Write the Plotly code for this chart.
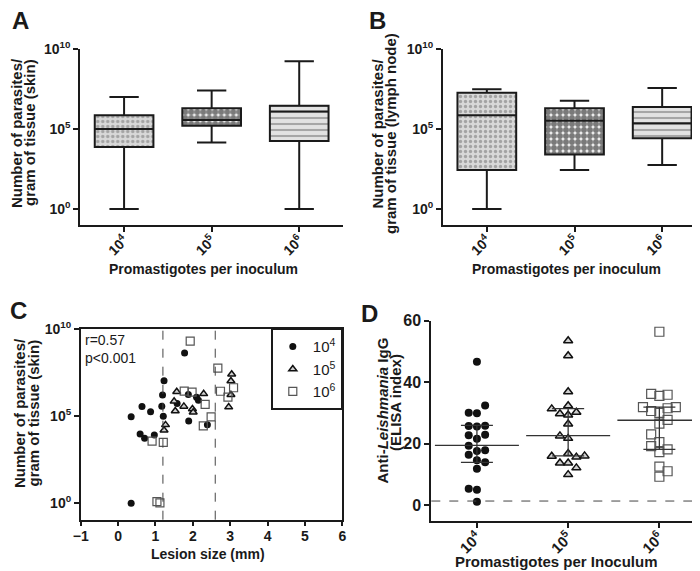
import plotly.graph_objects as go

W, H = 700, 571
FONT = "Liberation Sans, Arial, sans-serif"
INK = "#1a1a1a"

# ---------------- data ----------------
categories = ["10<sup>4</sup>", "10<sup>5</sup>", "10<sup>6</sup>"]
log_tick_vals = [1, 1e5, 1e10]
log_tick_text = ["10<sup>0</sup>", "10<sup>5</sup>", "10<sup>10</sup>"]

# Panel A: parasites / g skin (log10 of box statistics)
skin_min = [0.0, 4.15, 0.0]
skin_q1 = [3.88, 5.21, 4.25]
skin_med = [5.0, 5.56, 6.1]
skin_q3 = [5.86, 6.29, 6.46]
skin_max = [7.0, 7.4, 9.23]

# Panel B: parasites / g lymph node (log10)
ln_min = [0.0, 2.44, 2.75]
ln_q1 = [2.44, 3.4, 4.42]
ln_med = [5.86, 5.52, 5.36]
ln_q3 = [7.27, 6.29, 6.38]
ln_max = [7.48, 6.77, 7.56]

# Panel C: lesion size (mm) vs log10 parasites / g skin
c4_size = [0.35, 0.59, 0.64, 0.71, 0.87, 0.97, 1.17, 1.19, 1.23, 1.21, 1.78, 1.58,
           1.88, 1.89, 2.10, 2.15, 2.39, 0.35]
c4_log = [4.97, 3.98, 5.55, 3.73, 5.25, 3.92, 5.57, 6.21, 7.03, 5.0, 8.63, 5.72,
          6.24, 4.72, 6.09, 5.91, 4.5, 0.0]
c5_size = [1.23, 1.27, 1.50, 1.53, 1.57, 1.76, 1.99, 2.01, 2.29, 2.96, 3.02, 3.02, 3.04, 4.58]
c5_log = [4.19, 4.5, 5.85, 5.3, 6.4, 5.56, 5.41, 5.22, 6.28, 5.52, 6.23, 7.02, 7.4, 5.54]
c6_size = [0.91, 1.04, 1.12, 1.21, 1.77, 1.93, 1.98, 2.28, 2.33, 2.49, 2.67, 2.74, 2.94, 3.09]
c6_log = [3.57, 0.1, 0.03, 3.5, 6.44, 9.3, 6.38, 4.44, 5.68, 4.96, 7.75, 6.43, 6.09, 6.63]
c_cutoffs = [1.2, 2.6]

# Panel D: anti-Leishmania IgG (ELISA index); column = swarm column of each point
d4_vals = [46.6, 32.4, 30.0, 29.9, 25.7, 25.6, 25.8, 22.7, 22.9, 21.6, 19.3, 17.6, 17.8,
           16.4, 14.6, 13.9, 11.8, 5.3, 5.0, 1.1]
d4_cols = [0, 1, -1, 0, -1, 0, 1, -1, 1, 0, -1, 0, 1, -1, 0, 1, 0, -1, 0, 0]
d5_vals = [53.5, 48.6, 36.9, 32.3, 31.3, 29.7, 29.3, 30.2, 26.4, 22.5, 21.7, 16.8, 15.9,
           15.6, 16.0, 13.7, 13.7, 12.1, 9.9]
d5_cols = [0, 0, 0, 0, -2, -1, 0, 1, 0, -1, 0, 0, -2, 1, 2, -1, 0, 1, 0]
d6_vals = [56.4, 36.2, 35.5, 35.9, 31.9, 30.6, 30.0, 31.5, 31.9, 26.5, 27.7, 23.0, 20.5,
           19.2, 18.1, 17.2, 12.5, 11.0, 9.2]
d6_cols = [0, -1, 0, 1, -2, -1, 0, 1, 2, 0, 1, -1, 0, -1, 1, 0, 0, 1, 0]
d_median = [19.4, 22.6, 27.6]
d_q1 = [13.9, 16.0, 18.1]
d_q3 = [25.9, 31.4, 31.9]
d_cutoff = 1.3

# ---------------- helpers ----------------
def px(x):
    return x / W

def py(y):
    return 1 - y / H

patterns = [
    dict(shape=".", fgcolor="#6e6e6e", bgcolor="#d8d8d8", size=5, solidity=0.35),
    dict(shape=".", fgcolor="#000000", bgcolor="#f4f4f4", size=6, solidity=0.75),
    dict(shape="-", fgcolor="#6a6a6a", bgcolor="#e2e2e2", size=6, solidity=0.35),
]

fig = go.Figure()

def add_boxes(xa, ya, lo, q1, med, q3, hi):
    for i in range(3):
        fig.add_trace(go.Bar(
            x=[i], y=[10 ** q3[i] - 10 ** q1[i]], base=[10 ** q1[i]], width=0.67,
            marker=dict(color=patterns[i]["bgcolor"], pattern=patterns[i], line=dict(width=0)),
            xaxis=xa, yaxis=ya, showlegend=False, hoverinfo="skip"))
    fig.add_trace(go.Box(
        x=[0, 1, 2],
        q1=[10 ** v for v in q1], median=[10 ** v for v in med], q3=[10 ** v for v in q3],
        lowerfence=[10 ** v for v in lo], upperfence=[10 ** v for v in hi],
        width=0.67, whiskerwidth=0.5, fillcolor="rgba(0,0,0,0)",
        line=dict(color=INK, width=2), boxpoints=False,
        xaxis=xa, yaxis=ya, showlegend=False, hoverinfo="skip"))

add_boxes("x", "y", skin_min, skin_q1, skin_med, skin_q3, skin_max)
add_boxes("x2", "y2", ln_min, ln_q1, ln_med, ln_q3, ln_max)

# Panel C scatter
fig.add_trace(go.Scatter(
    x=c4_size, y=[10 ** v for v in c4_log], mode="markers", name="10<sup>4</sup>",
    marker=dict(symbol="circle", size=7, color="#111"), xaxis="x3", yaxis="y3"))
fig.add_trace(go.Scatter(
    x=c5_size, y=[10 ** v for v in c5_log], mode="markers", name="10<sup>5</sup>",
    marker=dict(symbol="triangle-up", size=7, color="#cfcfcf", line=dict(color="#111", width=1.5)),
    xaxis="x3", yaxis="y3"))
fig.add_trace(go.Scatter(
    x=c6_size, y=[10 ** v for v in c6_log], mode="markers", name="10<sup>6</sup>",
    marker=dict(symbol="square-open", size=8, color="#555", line=dict(width=1.2)),
    xaxis="x3", yaxis="y3"))

# Panel D scatter
SW = 0.09
d_sets = [
    (d4_vals, d4_cols, dict(symbol="circle", size=8, color="#111")),
    (d5_vals, d5_cols, dict(symbol="triangle-up", size=8, color="#cfcfcf",
                            line=dict(color="#111", width=1.5))),
    (d6_vals, d6_cols, dict(symbol="square-open", size=9, color="#555", line=dict(width=1.2))),
]
for i, (vals, cols, mk) in enumerate(d_sets):
    fig.add_trace(go.Scatter(
        x=[i + c * SW for c in cols], y=vals, mode="markers", marker=mk,
        xaxis="x4", yaxis="y4", showlegend=False, hoverinfo="skip"))
for i in range(3):
    fig.add_trace(go.Scatter(
        x=[i], y=[d_median[i]], mode="markers",
        marker=dict(symbol="line-ew", size=60, color="#333", line=dict(color="#333", width=1.3)),
        error_y=dict(type="data", symmetric=False, array=[d_q3[i] - d_median[i]],
                     arrayminus=[d_median[i] - d_q1[i]], width=16, thickness=1.3, color="#333"),
        xaxis="x4", yaxis="y4", showlegend=False, hoverinfo="skip"))

# ---------------- axes ----------------
def cat_xaxis(domain, anchor, size):
    return dict(domain=domain, anchor=anchor, range=[-0.5, 2.5], tickvals=[0, 1, 2],
                ticktext=categories, tickangle=-45, showline=True, linecolor=INK, linewidth=2,
                ticks="outside", ticklen=5, tickwidth=1.5, tickcolor=INK, showgrid=False,
                zeroline=False, automargin=False, ticklabelstandoff=-5,
                tickfont=dict(family=FONT, size=size, color=INK, weight="bold"))

def log_yaxis(domain, anchor, rng, mirror=False, lw=2):
    return dict(domain=domain, anchor=anchor, type="log", range=rng, tickvals=log_tick_vals,
                ticktext=log_tick_text, showline=True, linecolor=INK, linewidth=lw,
                mirror=mirror, ticks="outside", ticklen=5, tickwidth=1.5, tickcolor=INK,
                showgrid=False, zeroline=False, automargin=False,
                tickfont=dict(family=FONT, size=14, color=INK, weight="bold"))

layout = dict(
    width=W, height=H, autosize=False,
    margin=dict(l=0, r=0, t=0, b=0, pad=0, autoexpand=False),
    paper_bgcolor="white", plot_bgcolor="white",
    barmode="overlay", boxmode="overlay",
    font=dict(family=FONT, color=INK),
    xaxis=cat_xaxis([px(72.3), px(335)], "y", 14),
    yaxis=log_yaxis([py(216.7), py(41)], "x", [-0.98, 10]),
    xaxis2=cat_xaxis([px(435), px(698)], "y2", 14),
    yaxis2=log_yaxis([py(216.7), py(41)], "x2", [-0.98, 10]),
    xaxis3=dict(domain=[px(72.7), px(334.3)], anchor="y3", range=[-1, 6], dtick=1,
                showline=True, mirror=True, linecolor=INK, linewidth=1.5, ticks="outside",
                ticklen=5, tickwidth=1.5, tickcolor=INK, showgrid=False, zeroline=False,
                automargin=False, ticklabelstandoff=-2,
                tickfont=dict(family=FONT, size=14, color=INK, weight="bold")),
    yaxis3=log_yaxis([py(511.7), py(321)], "x3", [-0.94, 10], mirror=True, lw=1.5),
    xaxis4=cat_xaxis([px(423.3), px(697)], "y4", 15),
    yaxis4=dict(domain=[py(512.7), py(312.7)], anchor="x4", range=[-5.1, 60],
                tickvals=[0, 20, 40, 60], showline=True, linecolor=INK, linewidth=2,
                ticks="outside", ticklen=5, tickwidth=1.5, tickcolor=INK, showgrid=False,
                zeroline=False, automargin=False,
                tickfont=dict(family=FONT, size=16, color=INK, weight="bold")),
    legend=dict(x=px(334.3), y=py(320.7), xanchor="right", yanchor="top",
                bordercolor=INK, borderwidth=1.5, bgcolor="white",
                font=dict(family=FONT, size=15, color=INK), itemwidth=30, tracegroupgap=2),
    showlegend=True,
)
fig.update_layout(**layout)

# dashed reference lines
for c in c_cutoffs:
    fig.add_shape(type="line", xref="x3", yref="y3 domain", x0=c, x1=c, y0=0, y1=1,
                  line=dict(color="#444", width=1, dash="dash"))
fig.add_shape(type="line", xref="x4 domain", yref="y4", x0=0, x1=1, y0=d_cutoff, y1=d_cutoff,
              line=dict(color="#444", width=1, dash="dash"))

# annotations
def ann(text, x, y, size, angle=0, xanchor="center", yanchor="middle"):
    fig.add_annotation(text=text, x=px(x), y=py(y), xref="paper", yref="paper",
                       showarrow=False, textangle=angle, xanchor=xanchor, yanchor=yanchor,
                       font=dict(family=FONT, size=size, color=INK))

for letter, x, y in [("A", 12.5, 12.5), ("B", 369, 12.5), ("C", 10.5, 302.5), ("D", 361, 305)]:
    ann(f"<b>{letter}</b>", x, y, 24)

# rotated y titles (one annotation per line for tight line spacing)
ann("<b>Number of parasites/</b>", 9, 125, 15, -90)
ann("<b>gram of tissue (skin)</b>", 22, 125, 15, -90)
ann("<b>Number of parasites/</b>", 368.5, 126, 15, -90)
ann("<b>gram of tissue (lymph node)</b>", 382, 126, 15, -90)
ann("<b>Number of parasites/</b>", 11, 405, 15, -90)
ann("<b>gram of tissue (skin)</b>", 24.5, 405, 15, -90)
ann("<b>Anti-<i>Leishmania</i> IgG</b>", 373.5, 403, 15, -90)
ann("<b>(ELISA index)</b>", 387, 395, 15, -90)

ann("<b>Promastigotes per inoculum</b>", 195, 261, 14)
ann("<b>Promastigotes per inoculum</b>", 558, 261, 14)
ann("<b>Lesion size (mm)</b>", 200, 546, 14)
ann("<b>Promastigotes per Inoculum</b>", 548, 553, 15)

fig.add_annotation(text="r=0.57<br>p<0.001", x=px(75), y=py(322), xref="paper", yref="paper",
                   showarrow=False, xanchor="left", yanchor="top", align="left",
                   font=dict(family=FONT, size=14, color=INK))

fig.write_html("out.html")
